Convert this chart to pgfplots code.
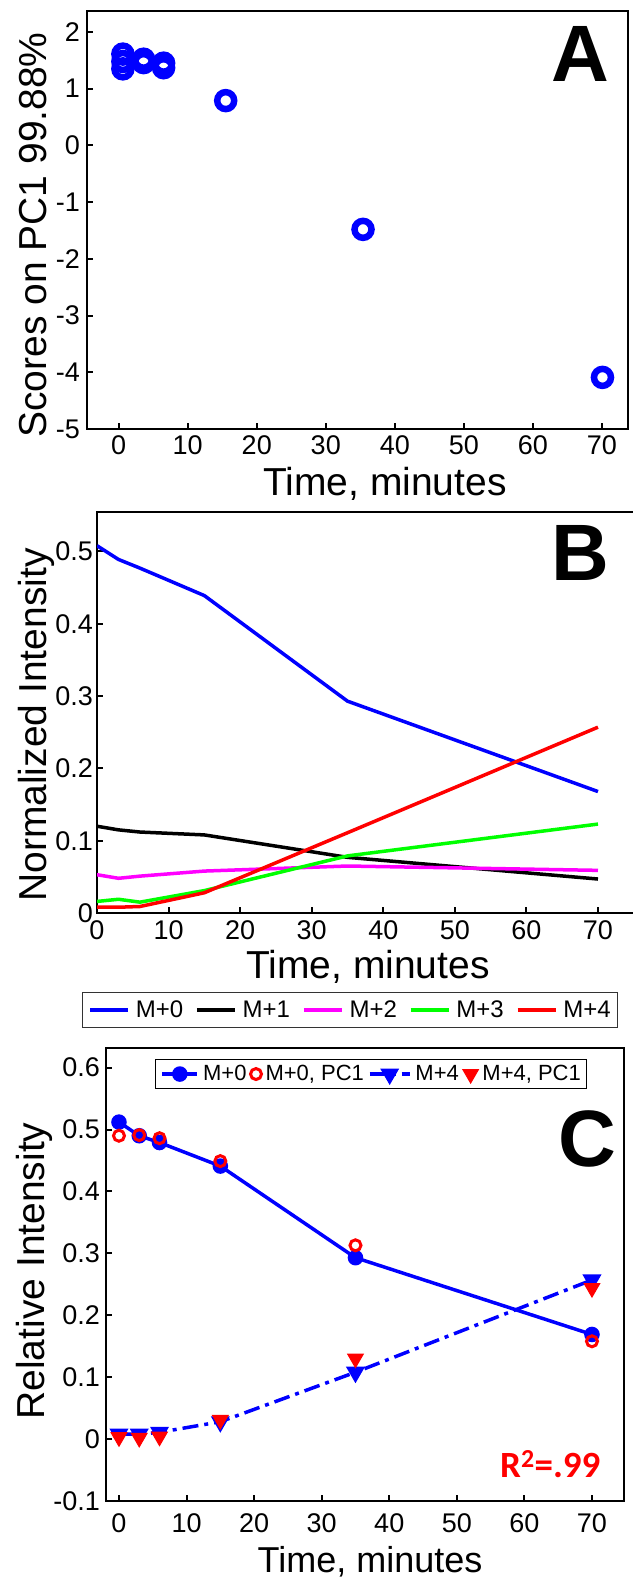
\documentclass[border=0pt]{standalone}
\usepackage{fontspec}
\setmainfont{Liberation Sans}
\newfontfamily\carlito{Carlito}
\usepackage{pgfplots}
\pgfplotsset{compat=1.18}
\definecolor{mblue}{RGB}{0,0,255}
\definecolor{mmag}{RGB}{255,0,255}
\definecolor{mgreen}{RGB}{0,255,0}
\definecolor{mred}{RGB}{255,0,0}

\begin{document}
\begin{tikzpicture}
\pgfplotsset{
  base/.style={
    scale only axis,
    axis line style={line width=2.5pt, black},
    tick style={line width=2pt, black},
    major tick length=6pt,
    tick align=inside,
    xtick pos=bottom, ytick pos=left,
    tick label style={font=\fontsize{27}{30}\selectfont, inner sep=0pt},
  },
  legline/.style={legend image code/.code={\draw[##1] (0pt,0pt) -- (38pt,0pt);}},
  legMa/.style={legend image code/.code={\draw[mark repeat=2,mark phase=2,##1] plot coordinates {(0pt,0pt)(17.5pt,0pt)(35pt,0pt)};}},
  legMb/.style={legend image code/.code={\draw[mark repeat=2,mark phase=2,##1] plot coordinates {(0pt,0pt)(6pt,0pt)(12pt,0pt)};}},
  legMc/.style={legend image code/.code={\draw[mark repeat=2,mark phase=2,##1] plot coordinates {(0pt,0pt)(20pt,0pt)(40pt,0pt)};}},
  legMd/.style={legend image code/.code={\draw[mark repeat=2,mark phase=2,##1] plot coordinates {(0pt,0pt)(8pt,0pt)(16pt,0pt)};}},
}

% ---------------- Panel A ----------------
\begin{axis}[base,
  at={(87pt,-429pt)}, anchor=south west,
  width=541pt, height=418pt,
  xmin=-4.6, xmax=73.8, ymin=-5, ymax=2.37,
  xtick={0,10,20,30,40,50,60,70},
  xticklabels={0,10,20,30,40,50,60,70},
  ytick={-5,-4,-3,-2,-1,0,1,2},
  yticklabels={-5,-4,-3,-2,-1,0,1,2},
  xticklabel style={yshift=-6pt},
  yticklabel style={xshift=-7pt},
]
\addplot[only marks, mark=o, mark size=8.5pt, mblue, line width=6.5pt] coordinates {
  (0.6,1.61) (0.6,1.48) (0.6,1.35) (3.6,1.52) (3.6,1.46)
  (6.5,1.45) (6.5,1.37) (15.5,0.79) (35.4,-1.48) (70.1,-4.09)
};
\end{axis}
\node[font=\bfseries\fontsize{80}{80}\selectfont, anchor=base] at (580pt,-82pt) {A};
\node[font=\fontsize{39}{40}\selectfont, anchor=base] at (385pt,-495pt) {Time, minutes};
\node[font=\fontsize{39}{40}\selectfont, rotate=90, anchor=base] at (46pt,-235pt) {Scores on PC1 99.88\%};

% ---------------- Panel B ----------------
\begin{axis}[base,
  at={(97pt,-913pt)}, anchor=south west,
  width=548pt, height=401pt,
  xmin=0, xmax=76.57, ymin=0, ymax=0.5546,
  xtick={0,10,20,30,40,50,60,70},
  xticklabels={0,10,20,30,40,50,60,70},
  ytick={0,0.1,0.2,0.3,0.4,0.5},
  yticklabels={0,0.1,0.2,0.3,0.4,0.5},
  xticklabel style={yshift=-7pt},
  yticklabel style={xshift=-4pt},
  legend columns=-1,
  legline,
  legend style={at={(axis description cs:0.4617,-0.2419)}, anchor=center,
    draw=black!80, line width=1.2pt, fill=white,
    font=\fontsize{24}{26}\selectfont,
    inner xsep=6pt, inner ysep=7pt,
    nodes={inner sep=1pt},
    column sep=5pt,
    /tikz/every even column/.append style={column sep=11pt}},
]
\addplot[mblue, line width=3.5pt] coordinates {(0,0.508)(3,0.489)(6,0.477)(15,0.439)(35,0.293)(70,0.168)};
\addlegendentry{M+0}
\addplot[black, line width=3.5pt] coordinates {(0,0.120)(3,0.115)(6,0.112)(15,0.108)(35,0.077)(70,0.047)};
\addlegendentry{M+1}
\addplot[mmag, line width=3.5pt] coordinates {(0,0.053)(3,0.048)(6,0.051)(15,0.058)(35,0.065)(70,0.059)};
\addlegendentry{M+2}
\addplot[mgreen, line width=3.5pt] coordinates {(0,0.016)(3,0.019)(6,0.015)(15,0.031)(35,0.079)(70,0.123)};
\addlegendentry{M+3}
\addplot[mred, line width=3.5pt] coordinates {(0,0.008)(3,0.008)(6,0.009)(15,0.028)(35,0.111)(70,0.257)};
\addlegendentry{M+4}
\end{axis}
\node[font=\bfseries\fontsize{80}{80}\selectfont, anchor=base] at (580pt,-580pt) {B};
\node[font=\fontsize{39}{40}\selectfont, anchor=base] at (368pt,-978pt) {Time, minutes};
\node[font=\fontsize{39}{40}\selectfont, rotate=90, anchor=base] at (46pt,-725pt) {Normalized Intensity};

% ---------------- Panel C ----------------
\begin{axis}[base,
  at={(106pt,-1501pt)}, anchor=south west,
  width=518pt, height=453pt,
  xmin=-1.92, xmax=74.74, ymin=-0.1, ymax=0.6317,
  xtick={0,10,20,30,40,50,60,70},
  xticklabels={0,10,20,30,40,50,60,70},
  ytick={-0.1,0,0.1,0.2,0.3,0.4,0.5,0.6},
  yticklabels={-0.1,0,0.1,0.2,0.3,0.4,0.5,0.6},
  xticklabel style={yshift=-12pt},
  yticklabel style={xshift=-6pt},
  legend columns=-1,
  legend style={at={(axis description cs:0.0946,0.9757)}, anchor=north west,
    draw=black, line width=1.2pt, fill=white,
    font=\fontsize{22}{24}\selectfont,
    inner xsep=5pt, inner ysep=5pt,
    nodes={inner sep=1pt},
    column sep=3pt,
    /tikz/every even column/.append style={column sep=3pt}},
]
\addplot[mblue, line width=3.5pt, mark=*, mark size=6pt, mark options={solid}, legMa]
  coordinates {(0,0.512)(3,0.49)(6,0.479)(15,0.441)(35,0.293)(70,0.169)};
\addlegendentry{M+0}
\addplot[mred, only marks, mark=o, mark size=5.5pt, line width=3pt, legMb]
  coordinates {(0,0.49)(3,0.491)(6,0.486)(15,0.449)(35,0.313)(70,0.158)};
\addlegendentry{M+0, PC1}
\addplot[mblue, line width=3.5pt, dash pattern=on 16pt off 6pt on 4pt off 6pt,
  mark=triangle*, mark size=7.5pt, mark options={solid, rotate=180}, legMc]
  coordinates {(0,0.008)(3,0.008)(6,0.011)(15,0.028)(35,0.108)(70,0.257)};
\addlegendentry{M+4}
\addplot[mred, only marks, mark=triangle*, mark size=9pt, line width=1pt,
  mark options={rotate=180, fill=mred}, legMd]
  coordinates {(0,0.003)(3,0.002)(6,0.004)(15,0.031)(35,0.13)(70,0.244)};
\addlegendentry{M+4, PC1}
\end{axis}
\node[font=\bfseries\fontsize{80}{80}\selectfont, anchor=base] at (587pt,-1166pt) {C};
\node[anchor=base east, text=mred, font=\carlito\bfseries\fontsize{37}{37}\selectfont] at (604pt,-1477pt) {R\textsuperscript{2}=.99};
\node[font=\fontsize{36}{38}\selectfont, anchor=base] at (370pt,-1572pt) {Time, minutes};
\node[font=\fontsize{39}{40}\selectfont, rotate=90, anchor=base] at (44pt,-1271pt) {Relative Intensity};

\pgfresetboundingbox
\useasboundingbox (0pt,0pt) rectangle (632pt,-1578pt);
\end{tikzpicture}
\end{document}
